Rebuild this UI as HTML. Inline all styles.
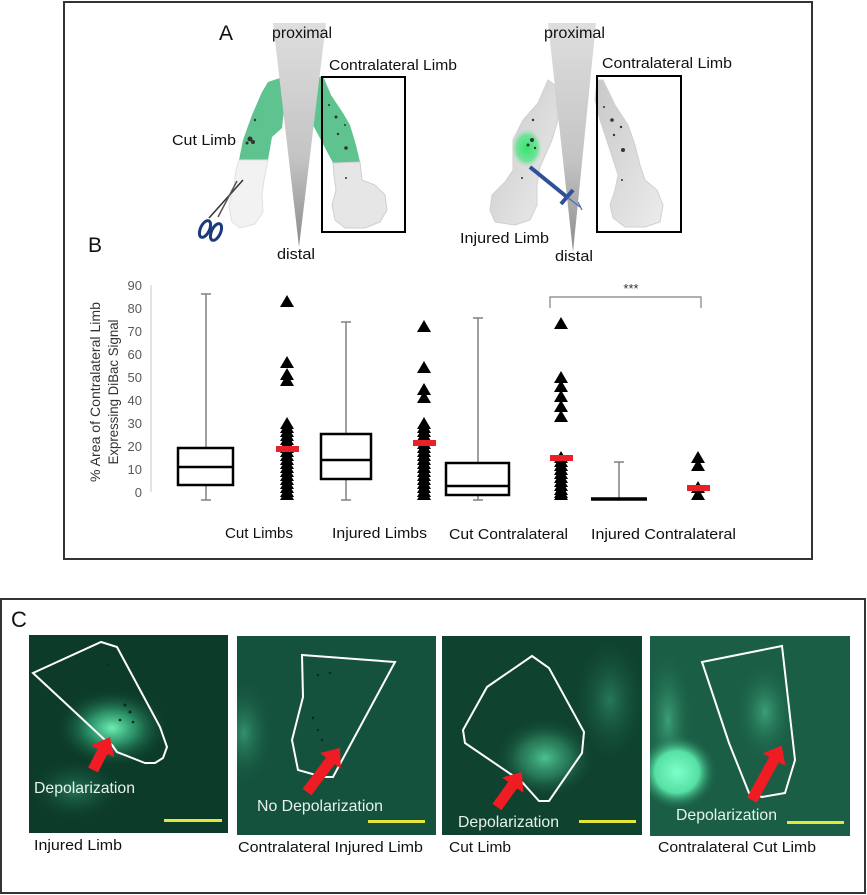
<!DOCTYPE html>
<html><head><meta charset="utf-8"><style>
html,body{margin:0;padding:0;background:#fff;}
svg{display:block;font-family:"Liberation Sans",sans-serif;}
</style></head><body>
<svg width="867" height="895" viewBox="0 0 867 895" xmlns="http://www.w3.org/2000/svg">
<defs>
<linearGradient id="wedge" x1="0" y1="0" x2="0" y2="1">
<stop offset="0" stop-color="#dedede"/><stop offset="0.6" stop-color="#c4c4c4"/><stop offset="1" stop-color="#8c8c8c"/></linearGradient>
<linearGradient id="limbg" x1="0" y1="0" x2="1" y2="1">
<stop offset="0" stop-color="#c8c8c8"/><stop offset="1" stop-color="#ececec"/></linearGradient>
<radialGradient id="gblob" cx="0.5" cy="0.5" r="0.5"><stop offset="0" stop-color="#2ee86a"/><stop offset="0.7" stop-color="#5be28a" stop-opacity="0.8"/><stop offset="1" stop-color="#8fe8ae" stop-opacity="0"/></radialGradient>
<radialGradient id="glow1" cx="0.5" cy="0.5" r="0.5"><stop offset="0" stop-color="#6ff0b4"/><stop offset="0.4" stop-color="#34a878" stop-opacity="0.8"/><stop offset="1" stop-color="#0c3b29" stop-opacity="0"/></radialGradient>
<radialGradient id="glow2" cx="0.5" cy="0.5" r="0.5"><stop offset="0" stop-color="#3fae84"/><stop offset="1" stop-color="#185a43" stop-opacity="0"/></radialGradient>
<radialGradient id="glow3" cx="0.5" cy="0.5" r="0.5"><stop offset="0" stop-color="#4cc290"/><stop offset="0.5" stop-color="#2f8a63" stop-opacity="0.7"/><stop offset="1" stop-color="#0f4330" stop-opacity="0"/></radialGradient>
<radialGradient id="glow4" cx="0.5" cy="0.5" r="0.5"><stop offset="0" stop-color="#7dffca"/><stop offset="0.55" stop-color="#56e0a4"/><stop offset="1" stop-color="#1a6448" stop-opacity="0"/></radialGradient>
<radialGradient id="glow4b" cx="0.5" cy="0.5" r="0.5"><stop offset="0" stop-color="#3c9f77"/><stop offset="1" stop-color="#1a6448" stop-opacity="0"/></radialGradient>
<clipPath id="c1"><rect x="29" y="635" width="199" height="198"/></clipPath>
<clipPath id="c2"><rect x="237" y="636" width="199" height="199"/></clipPath>
<clipPath id="c3"><rect x="442" y="636" width="200" height="199"/></clipPath>
<clipPath id="c4"><rect x="650" y="636" width="200" height="200"/></clipPath>
<path id="t" d="M0,-6 L7,6 L-7,6 Z" fill="#000"/>
</defs>

<!-- Panel A/B frame -->
<rect x="64" y="2" width="748" height="557" fill="#fff" stroke="#333" stroke-width="2"/>
<text x="219" y="40" font-size="21" fill="#111">A</text>
<text x="88" y="252" font-size="21" fill="#111">B</text>

<!-- Left diagram -->
<path d="M268,82 L283,77 L285,100 L282,128 L272,137 L268,160 L239,160 L243,140 L252,115 L262,92 Z" fill="#5ec38e"/>
<path d="M239,160 L268,160 L264,180 L262,195 L263,212 L255,224 L240,228 L232,222 L229,206 L234,186 L236,170 Z" fill="#f2f2f2" stroke="#e0e0e0" stroke-width="1"/>
<path d="M317,78 L323,76 L331,95 L343,113 L350,125 L356,145 L360,162 L333,163 L322,142 L313,125 L314,100 Z" fill="#5ec38e"/>
<path d="M333,163 L360,162 L362,180 L375,185 L385,195 L387,210 L380,222 L365,228 L345,228 L335,220 L332,205 L336,190 L334,175 Z" fill="#e6e6e6" stroke="#cfcfcf" stroke-width="1"/>
<g fill="#333">
<circle cx="255" cy="120" r="1.2"/><circle cx="250" cy="139" r="2.5"/><circle cx="253" cy="142" r="2"/><circle cx="247" cy="143" r="1.5"/>
<circle cx="329" cy="105" r="1"/><circle cx="336" cy="117" r="1.5"/><circle cx="345" cy="125" r="1"/><circle cx="338" cy="134" r="1.2"/><circle cx="346" cy="148" r="1.8"/><circle cx="346" cy="178" r="1"/>
</g>
<polygon points="273,23 326,23 299,247" fill="url(#wedge)"/>
<rect x="322" y="77" width="83" height="155" fill="none" stroke="#000" stroke-width="2"/>
<!-- scissors -->
<line x1="209" y1="218" x2="243" y2="180" stroke="#333" stroke-width="1.5"/>
<line x1="218" y1="217" x2="237" y2="181" stroke="#555" stroke-width="1.5"/>
<ellipse cx="205" cy="229" rx="4.5" ry="9" transform="rotate(25 205 229)" fill="none" stroke="#1d3b78" stroke-width="3"/>
<ellipse cx="216" cy="232" rx="4.5" ry="9" transform="rotate(25 216 232)" fill="none" stroke="#1d3b78" stroke-width="3"/>

<text x="272" y="38" font-size="16" fill="#111" textLength="60" lengthAdjust="spacingAndGlyphs">proximal</text>
<text x="329" y="70" font-size="15" fill="#111" textLength="128" lengthAdjust="spacingAndGlyphs">Contralateral Limb</text>
<text x="172" y="145" font-size="15" fill="#111" textLength="64" lengthAdjust="spacingAndGlyphs">Cut Limb</text>
<text x="277" y="259" font-size="15" fill="#111" textLength="38" lengthAdjust="spacingAndGlyphs">distal</text>

<!-- Right diagram -->
<path d="M548,80 L555,85 L558,120 L552,140 L540,167 L537,185 L537,205 L530,220 L515,225 L495,222 L490,210 L492,195 L505,182 L513,170 L513,140 L523,120 L538,103 Z" fill="url(#limbg)" stroke="#d0d0d0" stroke-width="1"/>
<ellipse cx="527" cy="148" rx="15" ry="19" fill="url(#gblob)"/>
<path d="M597,80 L603,80 L615,105 L628,125 L635,145 L640,165 L645,180 L657,190 L663,205 L660,222 L645,227 L625,227 L613,218 L610,205 L615,190 L618,175 L610,150 L600,120 L595,100 Z" fill="url(#limbg)" stroke="#d0d0d0" stroke-width="1"/>
<g fill="#333">
<circle cx="532" cy="140" r="2"/><circle cx="528" cy="145" r="1.5"/><circle cx="535" cy="148" r="1.2"/><circle cx="533" cy="120" r="1.2"/><circle cx="522" cy="178" r="1"/>
<circle cx="604" cy="107" r="1"/><circle cx="612" cy="120" r="1.8"/><circle cx="621" cy="127" r="1.2"/><circle cx="614" cy="135" r="1.2"/><circle cx="623" cy="150" r="2"/><circle cx="622" cy="180" r="1"/>
</g>
<polygon points="548,23 596,23 573,252" fill="url(#wedge)"/>
<line x1="530" y1="167" x2="567" y2="197" stroke="#2e4f9a" stroke-width="4"/>
<line x1="561" y1="204" x2="573" y2="190" stroke="#2e4f9a" stroke-width="4"/>
<line x1="567" y1="197" x2="580" y2="207" stroke="#4a6ab0" stroke-width="1.2"/>
<line x1="578" y1="202" x2="582" y2="210" stroke="#4a6ab0" stroke-width="1.2"/>
<rect x="597" y="76" width="84" height="156" fill="none" stroke="#000" stroke-width="2"/>
<text x="544" y="38" font-size="16" fill="#111" textLength="61" lengthAdjust="spacingAndGlyphs">proximal</text>
<text x="602" y="68" font-size="15" fill="#111" textLength="130" lengthAdjust="spacingAndGlyphs">Contralateral Limb</text>
<text x="460" y="243" font-size="15" fill="#111" textLength="89" lengthAdjust="spacingAndGlyphs">Injured Limb</text>
<text x="555" y="261" font-size="15" fill="#111" textLength="38" lengthAdjust="spacingAndGlyphs">distal</text>

<!-- Chart -->
<line x1="151" y1="285" x2="151" y2="492" stroke="#d0d0d0" stroke-width="1.2"/>
<g font-size="13" fill="#595959" text-anchor="end">
<text x="142" y="290">90</text><text x="142" y="313">80</text><text x="142" y="336">70</text><text x="142" y="359">60</text><text x="142" y="382">50</text><text x="142" y="405">40</text><text x="142" y="428">30</text><text x="142" y="451">20</text><text x="142" y="474">10</text><text x="142" y="497">0</text>
</g>
<text transform="translate(100 392) rotate(-90)" font-size="14" fill="#333" text-anchor="middle" textLength="180" lengthAdjust="spacingAndGlyphs">% Area of Contralateral Limb</text>
<text transform="translate(118 392) rotate(-90)" font-size="14" fill="#333" text-anchor="middle" textLength="145" lengthAdjust="spacingAndGlyphs">Expressing DiBac Signal</text>

<g stroke="#808080" stroke-width="1.5">
<line x1="206" y1="294" x2="206" y2="448"/><line x1="201" y1="294" x2="211" y2="294"/><line x1="206" y1="485" x2="206" y2="500"/><line x1="201" y1="500" x2="211" y2="500"/>
<line x1="346" y1="322" x2="346" y2="434"/><line x1="341" y1="322" x2="351" y2="322"/><line x1="346" y1="479" x2="346" y2="500"/><line x1="341" y1="500" x2="351" y2="500"/>
<line x1="478" y1="318" x2="478" y2="463"/><line x1="473" y1="318" x2="483" y2="318"/><line x1="478" y1="495" x2="478" y2="500"/><line x1="473" y1="500" x2="483" y2="500"/>
<line x1="619" y1="462" x2="619" y2="498"/><line x1="614" y1="462" x2="624" y2="462"/>
</g>
<g fill="#fff" stroke="#000" stroke-width="2.5">
<rect x="178" y="448" width="55" height="37"/><line x1="178" y1="467" x2="233" y2="467"/>
<rect x="321" y="434" width="50" height="45"/><line x1="321" y1="460" x2="371" y2="460"/>
<rect x="446" y="463" width="63" height="32"/><line x1="446" y1="486" x2="509" y2="486"/>
</g>
<line x1="591" y1="499" x2="647" y2="499" stroke="#000" stroke-width="3.5"/>

<g>
<use href="#t" x="287" y="301"/><use href="#t" x="287" y="362"/><use href="#t" x="287" y="374"/><use href="#t" x="287" y="380"/>
<use href="#t" x="287" y="423"/><use href="#t" x="287" y="427"/><use href="#t" x="287" y="431"/><use href="#t" x="287" y="435"/><use href="#t" x="287" y="439"/><use href="#t" x="287" y="443"/><use href="#t" x="287" y="447"/><use href="#t" x="287" y="451"/><use href="#t" x="287" y="455"/><use href="#t" x="287" y="459"/><use href="#t" x="287" y="463"/><use href="#t" x="287" y="467"/><use href="#t" x="287" y="471"/><use href="#t" x="287" y="475"/><use href="#t" x="287" y="479"/><use href="#t" x="287" y="483"/><use href="#t" x="287" y="487"/><use href="#t" x="287" y="491"/><use href="#t" x="287" y="494"/>

<use href="#t" x="424" y="326"/><use href="#t" x="424" y="367"/><use href="#t" x="424" y="389"/><use href="#t" x="424" y="397"/>
<use href="#t" x="424" y="423"/><use href="#t" x="424" y="427"/><use href="#t" x="424" y="431"/><use href="#t" x="424" y="435"/><use href="#t" x="424" y="439"/><use href="#t" x="424" y="443"/><use href="#t" x="424" y="447"/><use href="#t" x="424" y="451"/><use href="#t" x="424" y="455"/><use href="#t" x="424" y="459"/><use href="#t" x="424" y="463"/><use href="#t" x="424" y="467"/><use href="#t" x="424" y="471"/><use href="#t" x="424" y="475"/><use href="#t" x="424" y="479"/><use href="#t" x="424" y="483"/><use href="#t" x="424" y="487"/><use href="#t" x="424" y="491"/><use href="#t" x="424" y="494"/>

<use href="#t" x="561" y="323"/><use href="#t" x="561" y="377"/><use href="#t" x="561" y="386"/><use href="#t" x="561" y="396"/><use href="#t" x="561" y="406"/><use href="#t" x="561" y="416"/>
<use href="#t" x="561" y="457"/><use href="#t" x="561" y="461"/><use href="#t" x="561" y="465"/><use href="#t" x="561" y="469"/><use href="#t" x="561" y="473"/><use href="#t" x="561" y="477"/><use href="#t" x="561" y="481"/><use href="#t" x="561" y="485"/><use href="#t" x="561" y="489"/><use href="#t" x="561" y="492"/><use href="#t" x="561" y="494"/>

<use href="#t" x="698" y="457"/><use href="#t" x="698" y="465"/><use href="#t" x="698" y="487"/><use href="#t" x="698" y="494"/>
</g>
<g fill="#e8202a">
<rect x="276" y="446" width="23" height="6"/>
<rect x="413" y="440" width="23" height="6"/>
<rect x="550" y="455" width="23" height="6"/>
<rect x="687" y="485" width="23" height="6"/>
</g>
<path d="M550,308 V297 H701 V308" fill="none" stroke="#808080" stroke-width="1.2"/>
<text x="631" y="293" font-size="13" fill="#333" text-anchor="middle">***</text>

<g font-size="15" fill="#111">
<text x="225" y="538" textLength="68" lengthAdjust="spacingAndGlyphs">Cut Limbs</text>
<text x="332" y="538" textLength="95" lengthAdjust="spacingAndGlyphs">Injured Limbs</text>
<text x="449" y="539" textLength="119" lengthAdjust="spacingAndGlyphs">Cut Contralateral</text>
<text x="591" y="539" textLength="145" lengthAdjust="spacingAndGlyphs">Injured Contralateral</text>
</g>

<!-- Panel C -->
<rect x="1" y="599" width="864" height="294" fill="#fff" stroke="#333" stroke-width="2"/>
<text x="11" y="627" font-size="22" fill="#111">C</text>

<!-- image 1 -->
<g clip-path="url(#c1)">
<rect x="29" y="635" width="199" height="198" fill="#0c3b29"/>
<ellipse cx="112" cy="728" rx="58" ry="40" fill="url(#glow1)"/>
<ellipse cx="75" cy="790" rx="45" ry="30" fill="url(#glow2)" opacity="0.5"/>
<g fill="#0a2a1d"><circle cx="125" cy="705" r="1.5"/><circle cx="130" cy="712" r="1.5"/><circle cx="120" cy="720" r="1.3"/><circle cx="133" cy="722" r="1.3"/><circle cx="108" cy="665" r="1.2"/></g>
</g>
<polygon points="33,673 101,642 117,647 160,727 167,747 163,758 155,763 145,763 117,752 112,745 105,740" fill="none" stroke="#fff" stroke-width="2"/>
<polygon points="0,-5.5 21,-5.5 21,-13 37,0 21,13 21,5.5 0,5.5" fill="#f01c24" transform="translate(93 770) rotate(-62.7)"/>
<text x="34" y="793" font-size="16" fill="#e6f2ec" textLength="101" lengthAdjust="spacingAndGlyphs">Depolarization</text>
<rect x="164" y="819" width="58" height="3" fill="#e4e63a"/>

<!-- image 2 -->
<g clip-path="url(#c2)">
<rect x="237" y="636" width="199" height="199" fill="#185a43"/>
<ellipse cx="244" cy="733" rx="30" ry="55" fill="url(#glow2)"/>
<rect x="237" y="636" width="199" height="199" fill="#0d3b2a" opacity="0.25"/>
<g fill="#0a2a1d"><circle cx="318" cy="675" r="1.3"/><circle cx="330" cy="673" r="1.3"/><circle cx="313" cy="718" r="1.3"/><circle cx="318" cy="730" r="1.2"/><circle cx="322" cy="740" r="1.2"/></g>
</g>
<polygon points="302,655 395,662 333,777 323,777 298,770 292,740 303,697" fill="none" stroke="#fff" stroke-width="2"/>
<polygon points="0,-5.5 39,-5.5 39,-13 55,0 39,13 39,5.5 0,5.5" fill="#f01c24" transform="translate(307 792) rotate(-53.1)"/>
<text x="257" y="811" font-size="16" fill="#e6f2ec" textLength="126" lengthAdjust="spacingAndGlyphs">No Depolarization</text>
<rect x="368" y="820" width="57" height="3" fill="#e4e63a"/>

<!-- image 3 -->
<g clip-path="url(#c3)">
<rect x="442" y="636" width="200" height="199" fill="#0f4330"/>
<ellipse cx="545" cy="758" rx="50" ry="40" fill="url(#glow3)"/>
<ellipse cx="610" cy="700" rx="35" ry="60" fill="url(#glow2)" opacity="0.5"/>
</g>
<polygon points="532,656 549,668 584,732 582,753 549,801 539,801 522,782 512,775 465,743 463,730 487,687" fill="none" stroke="#fff" stroke-width="2"/>
<polygon points="0,-5.5 27,-5.5 27,-13 43,0 27,13 27,5.5 0,5.5" fill="#f01c24" transform="translate(497 807) rotate(-54.5)"/>
<text x="458" y="827" font-size="16" fill="#e6f2ec" textLength="101" lengthAdjust="spacingAndGlyphs">Depolarization</text>
<rect x="579" y="820" width="57" height="3" fill="#e4e63a"/>

<!-- image 4 -->
<g clip-path="url(#c4)">
<rect x="650" y="636" width="200" height="200" fill="#1a5e45"/>
<ellipse cx="765" cy="712" rx="30" ry="50" fill="url(#glow4b)"/>
<ellipse cx="668" cy="720" rx="25" ry="70" fill="url(#glow4b)"/>
<ellipse cx="677" cy="772" rx="40" ry="38" fill="url(#glow4)"/>
</g>
<polygon points="702,662 782,646 795,760 785,793 762,797 749,793 729,743" fill="none" stroke="#fff" stroke-width="2"/>
<polygon points="0,-5.5 46,-5.5 46,-13 62,0 46,13 46,5.5 0,5.5" fill="#f01c24" transform="translate(752 800) rotate(-61.4)"/>
<text x="676" y="820" font-size="16" fill="#e6f2ec" textLength="101" lengthAdjust="spacingAndGlyphs">Depolarization</text>
<rect x="787" y="821" width="57" height="3" fill="#e4e63a"/>

<g font-size="15" fill="#111">
<text x="34" y="850" textLength="88" lengthAdjust="spacingAndGlyphs">Injured Limb</text>
<text x="238" y="852" textLength="185" lengthAdjust="spacingAndGlyphs">Contralateral Injured Limb</text>
<text x="449" y="852" textLength="62" lengthAdjust="spacingAndGlyphs">Cut Limb</text>
<text x="658" y="852" textLength="158" lengthAdjust="spacingAndGlyphs">Contralateral Cut Limb</text>
</g>
</svg>
</body></html>
